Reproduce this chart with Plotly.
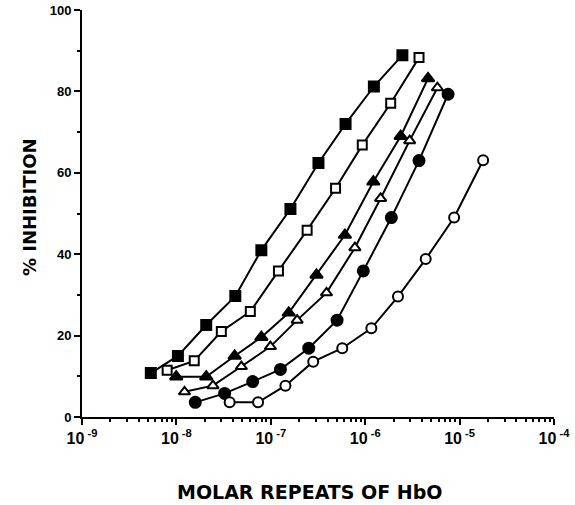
import plotly.graph_objects as go

# log10 of molar repeats and % inhibition per series
fsq_logx = [-8.271, -7.984, -7.684, -7.376, -7.100, -6.792, -6.495, -6.208, -5.908, -5.606]
fsq_y = [10.8, 15.0, 22.6, 29.7, 41.0, 51.1, 62.4, 72.0, 81.2, 88.9]
osq_logx = [-8.098, -7.811, -7.524, -7.217, -6.919, -6.615, -6.314, -6.031, -5.730, -5.430]
osq_y = [11.5, 13.8, 21.0, 25.9, 35.9, 45.9, 56.2, 66.8, 77.1, 88.3]
ftr_logx = [-8.002, -7.684, -7.383, -7.100, -6.810, -6.516, -6.215, -5.914, -5.624, -5.334]
ftr_y = [9.9, 9.9, 15.0, 19.6, 25.6, 34.9, 44.7, 57.8, 69.0, 83.2]
otr_logx = [-7.914, -7.613, -7.312, -7.004, -6.721, -6.410, -6.109, -5.837, -5.529, -5.235]
otr_y = [6.2, 7.7, 12.4, 17.3, 23.8, 30.5, 41.6, 53.7, 67.9, 80.9]
fci_logx = [-7.800, -7.489, -7.192, -6.898, -6.598, -6.298, -6.020, -5.723, -5.430, -5.122]
fci_y = [3.6, 5.8, 8.7, 11.7, 16.9, 23.8, 35.9, 49.0, 63.0, 79.3]
oci_logx = [-7.436, -7.135, -6.845, -6.551, -6.243, -5.935, -5.653, -5.359, -5.058, -4.751]
oci_y = [3.6, 3.6, 7.7, 13.6, 16.9, 21.8, 29.6, 38.8, 49.0, 63.1]

x_tickvals = [1e-9, 1e-8, 1e-7, 1e-6, 1e-5, 1e-4]
x_exps = ["-9", "-8", "-7", "-6", "-5", "-4"]
x_ticktext = ["10<sup> %s</sup>" % e for e in x_exps]
y_tickvals = [0, 20, 40, 60, 80, 100]

series = [
    (fsq_logx, fsq_y, "square", "black", 10),
    (osq_logx, osq_y, "square", "white", 9),
    (ftr_logx, ftr_y, "triangle-up", "black", 11),
    (otr_logx, otr_y, "triangle-up", "white", 10),
    (fci_logx, fci_y, "circle", "black", 11),
    (oci_logx, oci_y, "circle", "white", 10),
]

fig = go.Figure()
for lx, y, sym, fill, sz in series:
    fig.add_trace(go.Scatter(
        x=[10 ** v for v in lx], y=y, mode="lines+markers",
        line=dict(color="black", width=2),
        marker=dict(symbol=sym, size=sz, color=fill,
                    line=dict(color="black", width=2)),
        showlegend=False,
    ))

FAM = "Liberation Sans, Arial, sans-serif"
TFAM = "DejaVu Sans, Liberation Sans, sans-serif"

fig.update_layout(
    width=575, height=505,
    margin=dict(l=82, r=21, t=10, b=88),
    paper_bgcolor="white", plot_bgcolor="white",
    font=dict(family=FAM, color="black", size=13, weight="bold"),
    xaxis=dict(type="log", range=[-9, -4], tickvals=x_tickvals, ticktext=x_ticktext,
               automargin=False,
               showgrid=False, zeroline=False, showline=True, linecolor="black", linewidth=2,
               ticks="outside", ticklen=6, tickwidth=2, tickcolor="black",
               minor=dict(ticks="outside", ticklen=3, tickwidth=1.5, tickcolor="black", dtick="D1", showgrid=False),
               tickfont=dict(size=16, family=FAM, weight="bold", color="black")),
    yaxis=dict(range=[0, 100], tickvals=y_tickvals,
               automargin=False,
               showgrid=False, zeroline=False, showline=True, linecolor="black", linewidth=2,
               ticks="outside", ticklen=6, tickwidth=2, tickcolor="black",
               minor=dict(ticks="outside", ticklen=3, tickwidth=1.5, tickcolor="black", dtick=10, showgrid=False),
               tickfont=dict(size=13, family=FAM, weight="bold", color="black")),
    annotations=[
        dict(text="MOLAR REPEATS OF HbO", xref="paper", yref="paper", x=0.483, y=-0.184,
             xanchor="center", yanchor="middle",
             showarrow=False, font=dict(size=19, family=TFAM, weight="bold", color="black")),
        dict(text="% INHIBITION", xref="paper", yref="paper", x=-0.110, y=0.516, textangle=-90,
             xanchor="center", yanchor="middle",
             showarrow=False, font=dict(size=18, family=TFAM, weight="bold", color="black")),
    ],
)

fig.write_html("out.html", config={"displayModeBar": False},
               post_script="document.body.style.margin='0px';")
